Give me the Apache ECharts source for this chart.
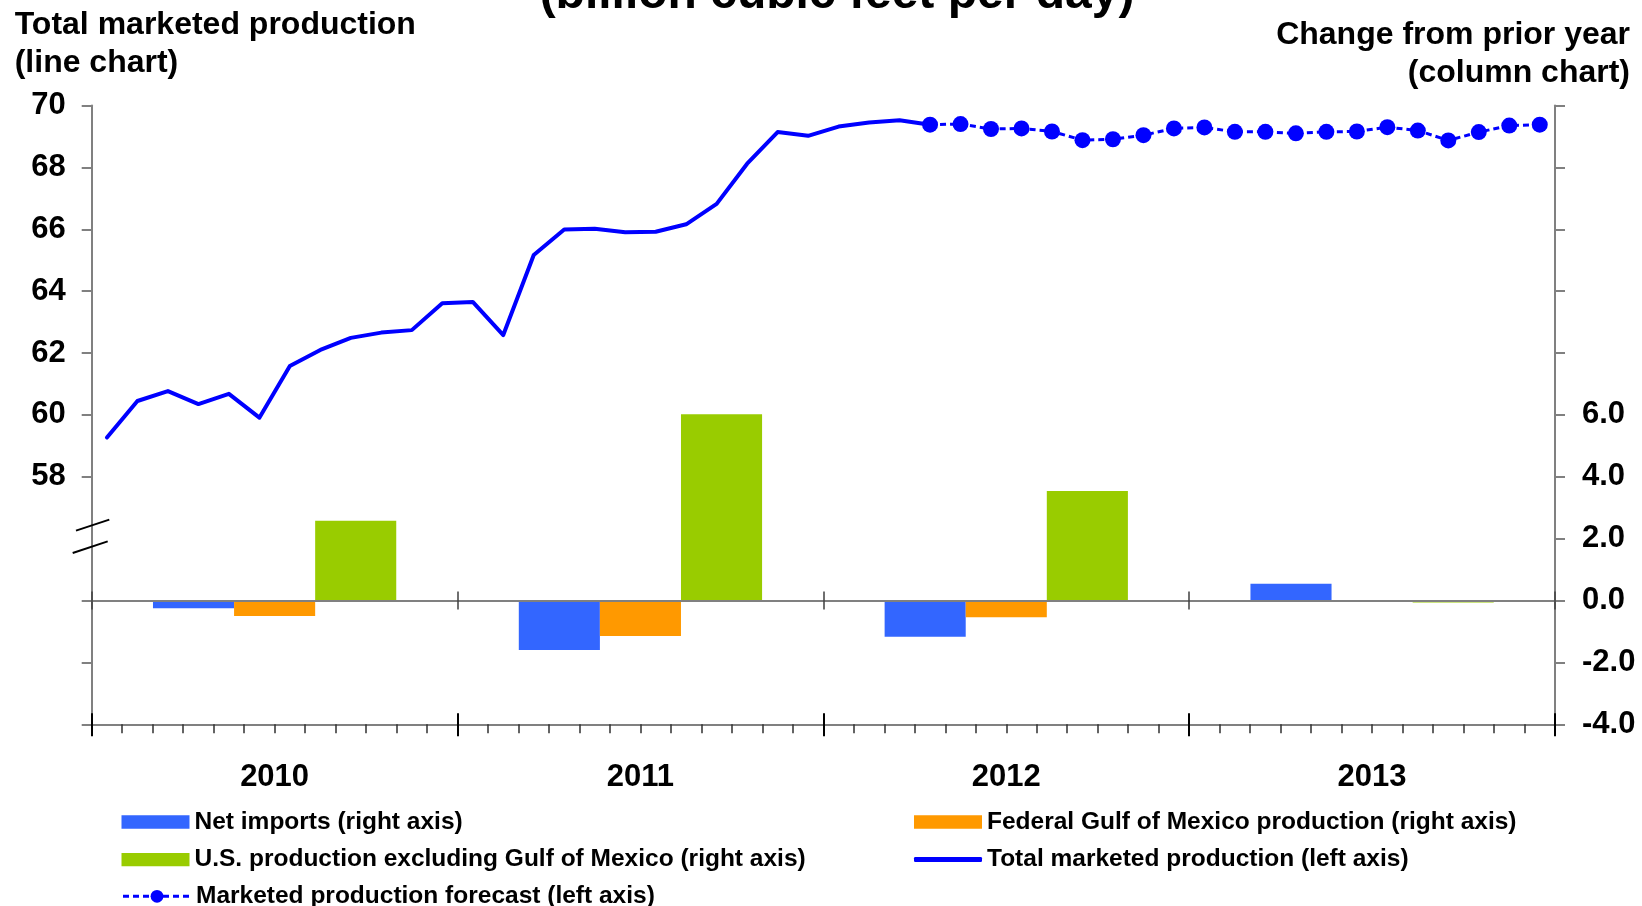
<!DOCTYPE html>
<html><head><meta charset="utf-8">
<script src="https://cdn.jsdelivr.net/npm/echarts@6/dist/echarts.min.js"></script>
<style>html,body{margin:0;padding:0;background:#fff}#c{width:1642px;height:906px}</style>
</head><body><div id="c"></div>
<script>
// ---- data ----
const years = ['2010', '2011', '2012', '2013'];
const monthAbbr = ['Jan','Feb','Mar','Apr','May','Jun','Jul','Aug','Sep','Oct','Nov','Dec'];
const leftTickValues = [50, 52, 54, 58, 60, 62, 64, 66, 68, 70];
const leftLabelValues = [58, 60, 62, 64, 66, 68, 70];
const rightLabelValues = [-4, -2, 0, 2, 4, 6];

// Change from prior year (right axis), one value per year
const netImports = [-0.25, -1.60, -1.17, 0.54];
const gulfProduction = [-0.50, -1.15, -0.54, 0.02];
const usExGulf = [2.58, 6.02, 3.54, -0.06];

// Monthly total marketed production (left axis), Jan 2010 .. Apr 2012
const totalProduction = [59.27, 60.45, 60.77, 60.35, 60.68, 59.91, 61.58, 62.10, 62.49, 62.66, 62.74, 63.61,
  63.65, 62.58, 65.17, 65.99, 66.02, 65.90, 65.92, 66.16, 66.82, 68.12, 69.14, 69.02,
  69.32, 69.45, 69.52, 69.38];
// Forecast, Apr 2012 .. Dec 2013
const forecast = [69.38, 69.40, 69.24, 69.26, 69.16, 68.88, 68.91, 69.04,
  69.26, 69.29, 69.15, 69.15, 69.10, 69.15, 69.16, 69.30, 69.19, 68.87, 69.14, 69.35, 69.38];

// ---- build ----
const months = [];
years.forEach(y => monthAbbr.forEach(m => months.push(m + ' ' + y)));
const solidData = months.map((_, i) => i < totalProduction.length ? totalProduction[i] : null);
const fcStart = months.length - forecast.length;
const forecastData = months.map((_, i) => i >= fcStart ? forecast[i - fcStart] : null);

const FF = '"Liberation Sans", Arial, Helvetica, sans-serif';
const AXIS_GRAY = '#808080';
const gridLeft = 91.7, gridRight = 87, gridTop = 105.5, gridBottom = 181.7;

const chart = echarts.init(document.getElementById('c'), null, {renderer: 'canvas'});
const legendText = {fontSize: 24.5, fontWeight: 'bold', color: '#000', fontFamily: FF, lineHeight: 26};
const legendBase = {padding: 0, itemWidth: 68, itemHeight: 13.4, selectedMode: false, textStyle: legendText};

chart.setOption({
  animation: false,
  backgroundColor: '#fff',
  grid: {left: gridLeft, right: gridRight, top: gridTop, bottom: gridBottom, containLabel: false},
  xAxis: [
    { type: 'category', data: years, position: 'bottom', z: 5,
      axisLine: {show: true, onZero: true, onZeroAxisIndex: 1, lineStyle: {color: AXIS_GRAY, width: 2}},
      axisTick: {show: true, interval: 0, length: 9, lineStyle: {color: '#404040', width: 1.5}},
      axisLabel: {show: false}, splitLine: {show: false} },
    { type: 'category', data: years, position: 'bottom', z: 5,
      axisLine: {show: false, onZero: true, onZeroAxisIndex: 1},
      axisTick: {show: true, inside: true, interval: 0, length: 9, lineStyle: {color: '#404040', width: 1.5}},
      axisLabel: {show: false}, splitLine: {show: false} },
    { type: 'category', data: months, position: 'bottom',
      axisLine: {show: true, onZero: false, lineStyle: {color: AXIS_GRAY, width: 2}},
      axisTick: {show: true, interval: 0, length: 9, lineStyle: {color: '#303030', width: 1.5}},
      axisLabel: {show: false}, splitLine: {show: false} },
    { type: 'category', data: years, position: 'bottom',
      axisLine: {show: false, onZero: false},
      axisTick: {show: true, interval: 0, length: 12, lineStyle: {color: '#000', width: 2}},
      axisLabel: {show: true, interval: 0, margin: 38, fontSize: 31, fontWeight: 'bold', color: '#000', fontFamily: FF},
      splitLine: {show: false} },
    { type: 'category', data: years, position: 'bottom',
      axisLine: {show: false, onZero: false},
      axisTick: {show: true, inside: true, interval: 0, length: 11, lineStyle: {color: '#000', width: 2}},
      axisLabel: {show: false}, splitLine: {show: false} }
  ],
  yAxis: [
    { type: 'value', position: 'left', min: 50, max: 70, interval: 2,
      axisLine: {show: true, lineStyle: {color: AXIS_GRAY, width: 2}},
      axisTick: {show: true, length: 10, customValues: leftTickValues, lineStyle: {color: AXIS_GRAY, width: 2}},
      axisLabel: {customValues: leftLabelValues, margin: 26, fontSize: 31, fontWeight: 'bold', color: '#000', fontFamily: FF,
        padding: [7, 0, 0, 0],
        formatter: v => leftLabelValues.indexOf(v) >= 0 ? String(v) : ''},
      splitLine: {show: false} },
    { type: 'value', position: 'right', min: -4, max: 16, interval: 2,
      axisLine: {show: true, lineStyle: {color: AXIS_GRAY, width: 2}},
      axisTick: {show: true, length: 10, lineStyle: {color: AXIS_GRAY, width: 2}},
      axisLabel: {customValues: rightLabelValues, margin: 27, fontSize: 31, fontWeight: 'bold', color: '#000', fontFamily: FF,
        padding: [7, 0, 0, 0],
        formatter: v => rightLabelValues.indexOf(v) >= 0 ? v.toFixed(1) : ''},
      splitLine: {show: false} }
  ],
  legend: [
    Object.assign({}, legendBase, {left: 121.5, top: 809, data: [{name: 'Net imports (right axis)', icon: 'rect'}]}),
    Object.assign({}, legendBase, {left: 914, top: 809, data: [{name: 'Federal Gulf of Mexico production (right axis)', icon: 'rect'}]}),
    Object.assign({}, legendBase, {left: 121.5, top: 846.6, data: [{name: 'U.S. production excluding Gulf of Mexico (right axis)', icon: 'rect'}]}),
    Object.assign({}, legendBase, {left: 914, top: 846.6, itemHeight: 5, data: [{name: 'Total marketed production (left axis)', icon: 'roundRect'}]}),
    Object.assign({}, legendBase, {left: 121.5, top: 883.3, itemHeight: 16, lineStyle: {width: 3}, data: [{name: 'Marketed production forecast (left axis)'}]})
  ],
  series: [
    { name: 'Net imports (right axis)', type: 'bar', xAxisIndex: 0, yAxisIndex: 1, data: netImports,
      barGap: '0%', barCategoryGap: '33.5%', itemStyle: {color: '#3366FF'} },
    { name: 'Federal Gulf of Mexico production (right axis)', type: 'bar', xAxisIndex: 0, yAxisIndex: 1, data: gulfProduction,
      barGap: '0%', barCategoryGap: '33.5%', itemStyle: {color: '#FF9900'} },
    { name: 'U.S. production excluding Gulf of Mexico (right axis)', type: 'bar', xAxisIndex: 0, yAxisIndex: 1, data: usExGulf,
      barGap: '0%', barCategoryGap: '33.5%', itemStyle: {color: '#99CC00'} },
    { name: 'Total marketed production (left axis)', type: 'line', xAxisIndex: 2, yAxisIndex: 0, data: solidData,
      symbol: 'none', showSymbol: false, connectNulls: false, z: 4,
      lineStyle: {color: '#0000FF', width: 4, cap: 'round', join: 'round'}, itemStyle: {color: '#0000FF'} },
    { name: 'Marketed production forecast (left axis)', type: 'line', xAxisIndex: 2, yAxisIndex: 0, data: forecastData,
      symbol: 'circle', symbolSize: 16, showSymbol: true, connectNulls: false, z: 5,
      lineStyle: {color: '#0000FF', width: 3, type: [6, 4]}, itemStyle: {color: '#0000FF'} }
  ]
});

// decorations: titles and axis-break marks
const yBreak = chart.convertToPixel({yAxisIndex: 0}, 56) - 2.5;
chart.setOption({
  graphic: [
    {type: 'text', x: 837, y: -5, z: 10, style: {text: '(billion cubic feet per day)', fontSize: 48, fontWeight: 'bold', fontFamily: FF, fill: '#000', align: 'center', verticalAlign: 'middle'}},
    {type: 'text', x: 14.7, y: 6.5, z: 10, style: {text: 'Total marketed production\n(line chart)', fontSize: 32, fontWeight: 'bold', fontFamily: FF, fill: '#000', lineHeight: 37.5, align: 'left', verticalAlign: 'top'}},
    {type: 'text', x: 1630, y: 16, z: 10, style: {text: 'Change from prior year\n(column chart)', fontSize: 32, fontWeight: 'bold', fontFamily: FF, fill: '#000', lineHeight: 38, align: 'right', verticalAlign: 'top'}},
    {type: 'line', z: 10, shape: {x1: gridLeft - 15.7, y1: yBreak - 5.5, x2: gridLeft + 17.6, y2: yBreak - 16.5}, style: {stroke: '#000', lineWidth: 2}},
    {type: 'line', z: 10, shape: {x1: gridLeft - 19, y1: yBreak + 16.8, x2: gridLeft + 16, y2: yBreak + 5.2}, style: {stroke: '#000', lineWidth: 2}}
  ]
});
</script></body></html>
